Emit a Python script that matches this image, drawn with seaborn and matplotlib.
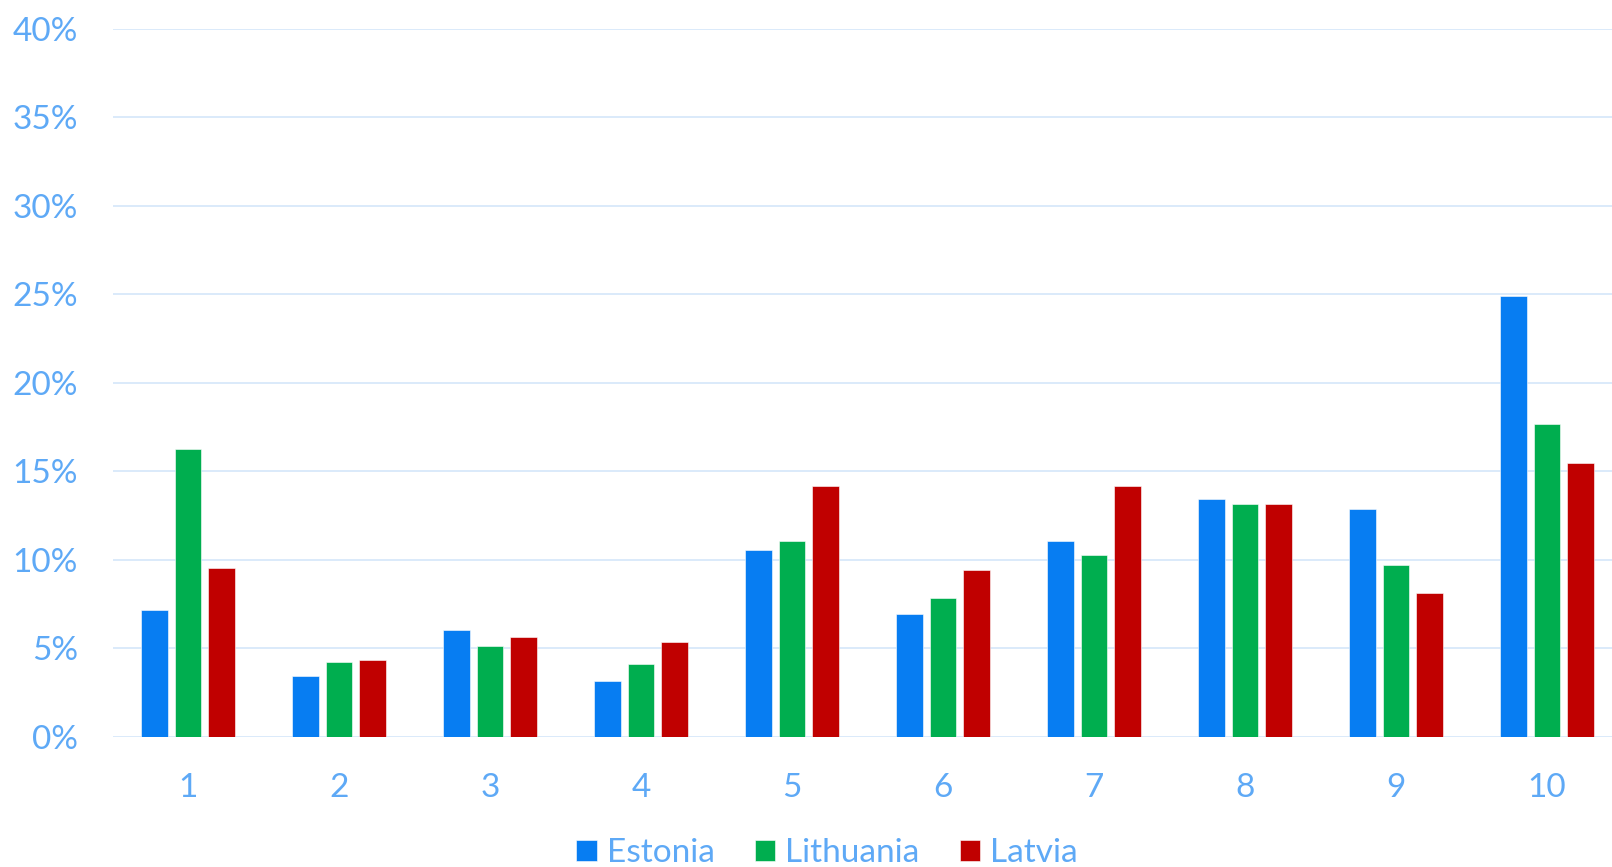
import pandas as pd
import matplotlib.pyplot as plt
import seaborn as sns

categories = ["1", "2", "3", "4", "5", "6", "7", "8", "9", "10"]
estonia = [7.15, 3.45, 6.05, 3.15, 10.55, 6.95, 11.05, 13.45, 12.85, 24.9]
lithuania = [16.25, 4.25, 5.15, 4.1, 11.05, 7.85, 10.25, 13.15, 9.7, 17.65]
latvia = [9.55, 4.35, 5.65, 5.35, 14.15, 9.45, 14.15, 13.15, 8.15, 15.45]
countries = ["Estonia", "Lithuania", "Latvia"]
colori = ["#077DF2", "#00AE4F", "#C00000"]

testo = "#5EA9F6"
griglia = "#DAEAFA"

df = pd.DataFrame({
    "cat": categories * 3,
    "val": estonia + lithuania + latvia,
    "paese": [c for c in countries for _ in categories],
})

sns.set_style("white")
plt.rcParams["font.family"] = ["Lato", "DejaVu Sans"]

fig = plt.figure(figsize=(16.12, 8.67), dpi=100)
ax = fig.add_axes([112.5 / 1612, 1 - 736.7 / 867, 1510 / 1612, (736.7 - 29) / 867])

sns.barplot(data=df, x="cat", y="val", hue="paese", palette=colori,
            width=0.66, gap=0.2, edgecolor="white", linewidth=0.4,
            saturation=1, ax=ax, zorder=3)

ax.set_ylim(0, 40)
ax.set_yticks(range(0, 41, 5))
ax.set_yticklabels([f"{v}%" for v in range(0, 41, 5)])
ax.yaxis.grid(True, color=griglia, linewidth=1.4, zorder=0)
ax.set_axisbelow(True)
for s in ax.spines.values():
    s.set_visible(False)
ax.tick_params(axis="y", length=0, pad=25, labelsize=24, labelcolor=testo)
ax.tick_params(axis="x", length=0, pad=26, labelsize=24, labelcolor=testo)
ax.set_xlabel("")
ax.set_ylabel("")

sns.move_legend(ax, "lower center", bbox_to_anchor=(0.513, -0.036),
                bbox_transform=fig.transFigure, ncol=3, frameon=False,
                title=None, fontsize=24, labelcolor=testo,
                handlelength=0.62, handleheight=0.62, handletextpad=0.3,
                columnspacing=1.2)

fig.savefig("out.png", dpi=100)
